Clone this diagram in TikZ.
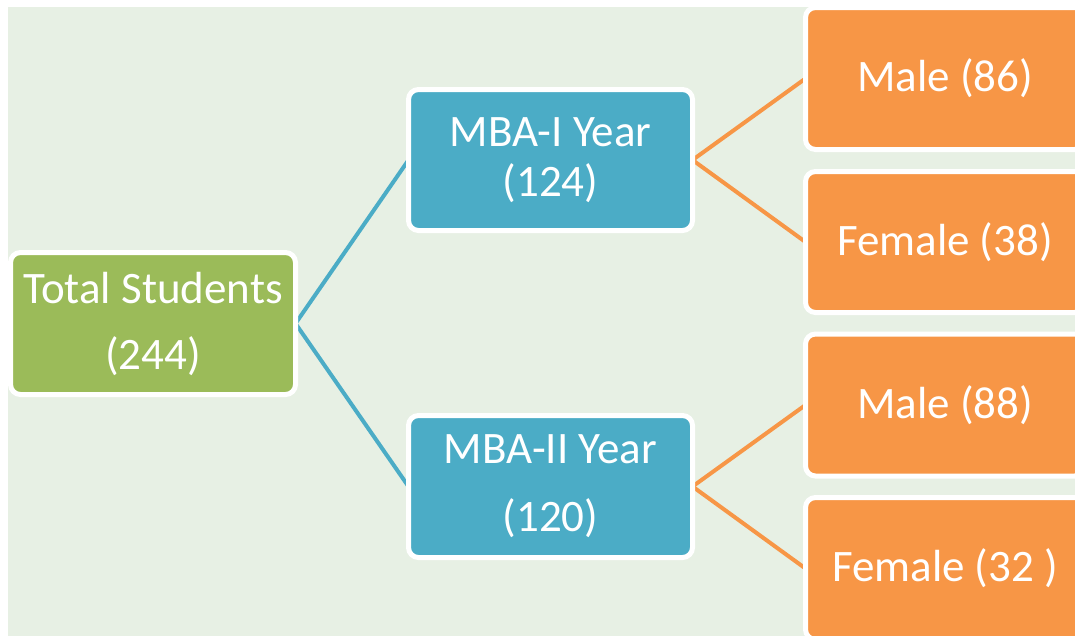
\documentclass[tikz,border=0pt]{standalone}
\usepackage{fontspec}
\setmainfont{Carlito}
\definecolor{bggreen}{RGB}{231,240,228}
\definecolor{boxgreen}{RGB}{155,187,89}
\definecolor{boxblue}{RGB}{75,172,198}
\definecolor{boxorange}{RGB}{247,150,70}
\pgfdeclarelayer{back}
\pgfdeclarelayer{lines}
\pgfsetlayers{back,lines,main}
\tikzset{
  box/.style={draw=white, line width=5pt, rounded corners=10pt, text=white,
    align=center, inner sep=0pt, outer sep=0pt, minimum height=142pt},
  conn/.style={line width=4pt},
}
\begin{document}
\begin{tikzpicture}[x=1pt,y=-1pt]
\useasboundingbox (0,0) rectangle (1075,635);
\clip (0,0) rectangle (1075,635);
\begin{pgfonlayer}{back}
\fill[white] (0,0) rectangle (1075,635);
\fill[bggreen] (8,7) rectangle (1080,640);
\end{pgfonlayer}
\node[box, fill=boxgreen, minimum width=285pt, font=\fontsize{45}{66}\selectfont] (total) at (153,323.5) {Total Students\\(244)};
\node[box, fill=boxblue, minimum width=284pt, minimum height=141pt, font=\fontsize{45}{50}\selectfont] (mba1) at (550.5,160) {MBA-I Year\\(124)};
\node[box, fill=boxblue, minimum width=284pt, font=\fontsize{45}{68}\selectfont] (mba2) at (550.5,486.5) {MBA-II Year\\(120)};
\node[box, fill=boxorange, minimum width=279pt, font=\fontsize{45}{50}\selectfont] (m1) at (945,78.5) {Male (86)};
\node[box, fill=boxorange, minimum width=279pt, minimum height=141pt, font=\fontsize{45}{50}\selectfont] (f1) at (945,242) {Female (38)};
\node[box, fill=boxorange, minimum width=279pt, font=\fontsize{45}{50}\selectfont] (m2) at (945,405) {Male (88)};
\node[box, fill=boxorange, minimum width=279pt, font=\fontsize{45}{50}\selectfont] (f2) at (945,568.5) {Female (32 )};
\begin{pgfonlayer}{lines}
\draw[conn, boxblue] (total.east) -- (mba1.west);
\draw[conn, boxblue] (total.east) -- (mba2.west);
\draw[conn, boxorange] (mba1.east) -- (m1.west);
\draw[conn, boxorange] (mba1.east) -- (f1.west);
\draw[conn, boxorange] (mba2.east) -- (m2.west);
\draw[conn, boxorange] (mba2.east) -- (f2.west);
\end{pgfonlayer}
\end{tikzpicture}
\end{document}
